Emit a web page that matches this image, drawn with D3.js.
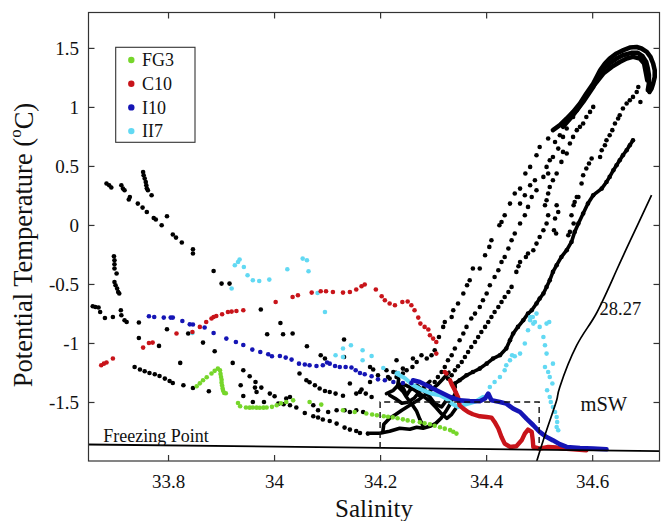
<!DOCTYPE html>
<html>
<head>
<meta charset="utf-8">
<script src="https://cdn.jsdelivr.net/npm/d3@7"></script>
<style>
  body { margin: 0; background: #fff; }
  svg { display: block; }
  svg text { font-family: "Liberation Serif", "DejaVu Serif", "Noto Serif", serif !important; fill: #111; }
</style>
</head>
<body>
<svg id="chart" width="665" height="521"></svg>
<script>
// ---- Axis definitions ----
const salinityDomain = [33.65, 34.727];
const thetaDomain = [-2.0, 1.8];
const xTickValues = [33.8, 34.0, 34.2, 34.4, 34.6];
const xTickLabels = ["33.8", "34", "34.2", "34.4", "34.6"];
const yTickValues = [-1.5, -1.0, -0.5, 0, 0.5, 1.0, 1.5];
const yTickLabels = ["-1.5", "-1", "-0.5", "0", "0.5", "1", "1.5"];

// ---- Reference lines ----
const freezingLine = [[33.65, -1.860], [34.727, -1.917]];
const isopycnal2827 = [[34.495, -2.008], [34.514, -1.740], [34.533, -1.486], [34.539, -1.373],
  [34.571, -1.019], [34.606, -0.765], [34.646, -0.384], [34.684, -0.017], [34.712, 0.252]];
const mswBox = [[34.2, -1.889], [34.2, -1.5], [34.5, -1.5], [34.5, -1.905]];

// ---- Station FG3 (salinity, potential temperature) ----
const fg3 = [[33.854,-1.367],[33.860,-1.342],[33.866,-1.316],[33.873,-1.291],[33.882,-1.259],[33.888,-1.236],
  [33.894,-1.217],[33.898,-1.231],[33.899,-1.262],[33.900,-1.288],[33.901,-1.312],[33.901,-1.336],[33.902,-1.360],
  [33.903,-1.385],[33.904,-1.405],[33.906,-1.424],[33.909,-1.426],[33.932,-1.508],[33.936,-1.536],[33.947,-1.547],
  [33.954,-1.548],[33.960,-1.547],[33.967,-1.548],[33.973,-1.549],[33.980,-1.548],[33.986,-1.547],[33.996,-1.541],
  [34.005,-1.528],[34.013,-1.511],[34.023,-1.500],[34.036,-1.486],[34.067,-1.500],[34.089,-1.522],[34.130,-1.570],
  [34.152,-1.585],[34.174,-1.598],[34.185,-1.606],[34.194,-1.613],[34.207,-1.621],[34.215,-1.625],[34.224,-1.630],
  [34.233,-1.638],[34.243,-1.647],[34.252,-1.656],[34.262,-1.664],[34.275,-1.672],[34.284,-1.680],[34.294,-1.689],
  [34.303,-1.701],[34.313,-1.714],[34.322,-1.726],[34.332,-1.738],[34.338,-1.752],[34.344,-1.768]];

// ---- Station C10 ----
const c10 = [[33.674,-1.189],[33.679,-1.175],[33.684,-1.166],[33.696,-1.132],[33.753,-1.039],[33.764,-1.000],
  [33.771,-0.997],[33.816,-0.920],[33.846,-0.907],[33.860,-0.864],[33.872,-0.822],[33.882,-0.793],[33.886,-0.780],
  [33.891,-0.771],[33.902,-0.757],[33.913,-0.737],[33.920,-0.734],[33.929,-0.729],[33.942,-0.723],[34.003,-0.653],
  [34.035,-0.610],[34.045,-0.596],[34.071,-0.573],[34.088,-0.562],[34.098,-0.562],[34.111,-0.568],[34.130,-0.573],
  [34.143,-0.568],[34.155,-0.547],[34.165,-0.519],[34.171,-0.505],[34.192,-0.547],[34.203,-0.604],[34.209,-0.638],
  [34.218,-0.666],[34.228,-0.681],[34.242,-0.653],[34.252,-0.649],[34.259,-0.681],[34.265,-0.723],[34.272,-0.785],
  [34.276,-0.836],[34.284,-0.864],[34.291,-0.886],[34.294,-0.935],[34.300,-0.963],[34.306,-0.992],[34.306,-1.090],
  [34.322,-1.246],[34.325,-1.259]];
const c10Deep = [[34.332,-1.316],[34.335,-1.350],[34.341,-1.401],[34.347,-1.460],[34.350,-1.528],[34.357,-1.556],
  [34.366,-1.585],[34.375,-1.604],[34.388,-1.621],[34.401,-1.627],[34.410,-1.632],[34.416,-1.669],[34.423,-1.725],
  [34.429,-1.797],[34.435,-1.853],[34.445,-1.881],[34.457,-1.875],[34.467,-1.825],[34.473,-1.768],[34.479,-1.734],
  [34.486,-1.754],[34.488,-1.825],[34.489,-1.881],[34.501,-1.895],[34.517,-1.881],[34.533,-1.886],[34.545,-1.895],
  [34.564,-1.901],[34.589,-1.909]];

// ---- Station I10 ----
const i10 = [[33.764,-0.774],[33.774,-0.780],[33.792,-0.785],[33.805,-0.785],[33.809,-0.785],[33.827,-0.814],
  [33.841,-0.842],[33.847,-0.844],[33.869,-0.869],[33.886,-0.915],[33.910,-0.963],[33.928,-0.992],[33.942,-1.017],
  [33.959,-1.056],[33.974,-1.076],[33.989,-1.096],[33.996,-1.113],[34.011,-1.110],[34.022,-1.124],[34.033,-1.141],
  [34.047,-1.175],[34.058,-1.183],[34.067,-1.189],[34.080,-1.195],[34.092,-1.189],[34.100,-1.166],[34.105,-1.175],
  [34.115,-1.195],[34.124,-1.203],[34.135,-1.203],[34.146,-1.208],[34.154,-1.231],[34.162,-1.254],[34.171,-1.265],
  [34.184,-1.282],[34.196,-1.308],[34.209,-1.316],[34.225,-1.331],[34.243,-1.339],[34.259,-1.339]];
const i10Deep = [[34.262,-1.316],[34.275,-1.331],[34.294,-1.373],[34.313,-1.415],[34.332,-1.458],[34.350,-1.486],
  [34.369,-1.492],[34.388,-1.494],[34.398,-1.471],[34.404,-1.429],[34.410,-1.486],[34.426,-1.500],[34.438,-1.514],
  [34.451,-1.556],[34.464,-1.585],[34.476,-1.641],[34.489,-1.697],[34.501,-1.754],[34.514,-1.797],[34.526,-1.825],
  [34.539,-1.858],[34.552,-1.881],[34.577,-1.890],[34.602,-1.895],[34.627,-1.901]];

// ---- Station II7 ----
const ii7 = [[33.920,-0.539],[33.926,-0.341],[33.932,-0.314],[33.935,-0.293],[33.943,-0.356],[33.950,-0.426],
  [33.960,-0.469],[33.972,-0.475],[33.991,-0.463],[34.025,-0.375],[34.054,-0.285],[34.062,-0.299],[34.065,-0.392],
  [34.082,-0.576],[34.096,-0.737],[33.846,-0.915],[34.116,-1.104],[34.130,-1.047],[34.130,-1.119],[34.145,-1.019],
  [34.167,-1.062],[34.184,-1.110],[34.167,-1.147],[34.206,-1.212],[34.234,-1.254],
  [34.407,-1.373],[34.416,-1.331],[34.426,-1.288],[34.435,-1.231],[34.438,-1.189],[34.445,-1.147],[34.449,-1.104],
  [34.454,-1.113],[34.464,-1.090],[34.473,-1.005],[34.479,-0.892],[34.483,-0.808],[34.483,-0.780],[34.488,-0.780],
  [34.495,-0.751],[34.489,-0.836],[34.492,-0.822],[34.501,-0.864],[34.508,-0.949],[34.514,-0.836],[34.519,-0.822],
  [34.511,-1.019],[34.514,-1.090],[34.511,-1.203],[34.517,-1.246],[34.520,-1.288],[34.526,-1.175],[34.525,-1.344],
  [34.515,-1.400],[34.520,-1.458],[34.522,-1.500],[34.526,-1.542],[34.530,-1.585],[34.533,-1.627],[34.534,-1.670],
  [34.533,-1.712],[34.536,-1.740]];
const ii7Deep = [[34.231,-1.259],[34.247,-1.299],[34.262,-1.358],[34.281,-1.401],[34.297,-1.429],[34.313,-1.443],
  [34.325,-1.471],[34.337,-1.519],[34.347,-1.542],[34.356,-1.528],[34.369,-1.511],[34.381,-1.494],[34.394,-1.458]];

// ---- Other CTD casts (black) ----
const castWestUpper = [[33.684,0.351],[33.689,0.336],[33.693,0.317],[33.712,0.336],[33.715,0.308],[33.718,0.294],
  [33.728,0.237],[33.726,0.215],[33.743,0.181],[33.752,0.147],[33.760,0.110],[33.773,0.059],[33.777,0.046],
  [33.788,-0.003],[33.798,0.074],[33.809,-0.081],[33.815,-0.107],[33.826,-0.149],[33.847,-0.206],[33.847,-0.242],
  [33.886,-0.390],[33.901,-0.497],[33.916,-0.497]];
const castWestStreakA = [[33.753,0.449],[33.754,0.421],[33.756,0.393],[33.758,0.364],[33.759,0.336],[33.760,0.311],
  [33.762,0.294],[33.769,0.252]];
const castWestStreakB = [[33.698,-0.265],[33.699,-0.299],[33.699,-0.333],[33.699,-0.369],[33.703,-0.412],
  [33.699,-0.483],[33.701,-0.511],[33.704,-0.539],[33.706,-0.568],[33.708,-0.581],[33.711,-0.723],[33.712,-0.765],
  [33.718,-0.808],[33.722,-0.822]];
const castWestLow = [[33.658,-0.689],[33.663,-0.695],[33.669,-0.700],[33.672,-0.737],[33.681,-0.788],[33.696,-0.780],
  [33.745,-0.827],[33.745,-0.958],[33.798,-0.884],[33.783,-1.025],[33.838,-0.920],[33.866,-0.997],[33.888,-1.070],
  [33.922,-1.169],[33.823,-1.169]];
const castSouthWest = [[33.737,-1.203],[33.747,-1.225],[33.756,-1.240],[33.765,-1.254],[33.775,-1.265],
  [33.784,-1.280],[33.794,-1.302],[33.803,-1.322],[33.809,-1.339],[33.829,-1.358],[33.847,-1.381],[33.877,-1.409]];
const castCentral = [[33.942,-1.231],[33.954,-1.282],[33.965,-1.331],[33.976,-1.378],[33.992,-1.429],[34.001,-1.452],
  [34.023,-1.471],[33.937,-1.358],[33.942,-1.449],[33.960,-1.500],[33.981,-1.500],[33.964,-1.378],[33.967,-1.415],
  [34.008,-1.514],[34.018,-1.519],[34.030,-1.528],[34.042,-1.547],[34.058,-1.593],[34.074,-1.621],[34.083,-1.632],
  [34.092,-1.649],[34.105,-1.661],[34.118,-1.683],[34.133,-1.717],[34.143,-1.734],[34.155,-1.746],[34.162,-1.763],
  [34.177,-1.768],[34.061,-1.316],[34.067,-1.333],[34.077,-1.358],[34.086,-1.386],[34.096,-1.407],[34.105,-1.415],
  [34.116,-1.429],[34.130,-1.447],[34.143,-1.344],[34.155,-1.429],[34.165,-1.395],[34.173,-1.429],[34.184,-1.458],
  [34.048,-1.259],[34.074,-1.528],[34.083,-1.570],[34.102,-1.585],[34.118,-1.570],[34.133,-1.570],[34.143,-1.585],
  [34.155,-1.570],[34.168,-1.585],[34.030,-1.458],[33.975,-0.717],[34.012,-0.831],[33.987,-0.926],[34.017,-0.926],
  [34.035,-0.920],[34.062,-1.028],[34.088,-1.104],[34.096,-1.132],[34.132,-0.971],[34.132,-1.119],[34.181,-1.203],
  [34.187,-1.225],[34.196,-1.274],[34.215,-1.288],[34.181,-1.331],[34.162,-1.415],[34.231,-1.147],[34.262,-1.132],
  [34.278,-1.104],[34.288,-1.132],[34.212,-1.231],[34.225,-1.246],[34.243,-1.217]];
const castEastA = [[34.454,0.266],[34.445,0.181],[34.429,0.025],[34.425,-0.003],[34.410,-0.130],[34.406,-0.186],
  [34.398,-0.257],[34.388,-0.369],[34.375,-0.369],[34.369,-0.469],[34.364,-0.511],[34.357,-0.581],[34.347,-0.666],
  [34.338,-0.723],[34.335,-0.780],[34.322,-0.822],[34.319,-0.864],[34.311,-0.949],[34.303,-1.062],[34.297,-1.104],
  [34.269,-1.161],[34.261,-1.203],[34.250,-1.231],[34.243,-1.259],[34.231,-1.288],[34.218,-1.302],
  [34.435,0.082],[34.464,0.308],[34.474,0.436],[34.483,0.492],[34.495,0.591],[34.501,0.661],[34.517,0.732]];
const castEastB = [[34.495,0.294],[34.486,0.237],[34.479,0.153],[34.473,0.082],[34.464,0.012],[34.454,-0.073],
  [34.448,-0.130],[34.442,-0.200],[34.435,-0.271],[34.429,-0.314],[34.423,-0.384],[34.416,-0.441],[34.407,-0.511],
  [34.401,-0.581],[34.394,-0.638],[34.388,-0.695],[34.379,-0.751],[34.372,-0.793],[34.363,-0.864],[34.357,-0.920],
  [34.350,-0.977],[34.341,-1.047],[34.335,-1.104],[34.328,-1.147],[34.322,-1.203],[34.316,-1.246],[34.309,-1.288],
  [34.303,-1.331],[34.294,-1.367],[34.284,-1.401],[34.275,-1.443],
  [34.464,0.181],[34.473,0.252],[34.483,0.336],[34.492,0.379],[34.508,0.407],[34.517,0.436],[34.526,0.576],
  [34.536,0.647],[34.545,0.746],[34.552,0.817],[34.564,0.915],[34.530,0.703],[34.539,0.760],[34.545,0.619],
  [34.520,0.548],[34.514,0.492]];
const castEastC = [[34.571,0.237],[34.565,0.167],[34.561,0.082],[34.565,0.012],[34.558,-0.059],[34.555,-0.087],
  [34.533,0.167],[34.536,0.110],[34.530,0.054],[34.528,-0.045],[34.532,-0.073],[34.517,0.082],[34.514,0.012],
  [34.508,-0.045],[34.501,-0.102],[34.495,-0.158],[34.489,-0.214],[34.479,-0.242],[34.475,-0.271],[34.464,-0.314],
  [34.461,-0.350],[34.457,-0.398],[34.448,-0.525],[34.442,-0.568],[34.435,-0.610],[34.429,-0.653],[34.423,-0.695],
  [34.416,-0.737],[34.410,-0.780],[34.404,-0.822],[34.398,-0.864],[34.391,-0.907],[34.385,-0.949],[34.379,-0.992],
  [34.372,-1.034],[34.366,-1.076],[34.360,-1.119],[34.354,-1.161],[34.347,-1.197],[34.341,-1.231],[34.335,-1.274],
  [34.328,-1.302],
  [34.602,1.000],[34.596,0.958],[34.589,0.915],[34.583,0.859],[34.577,0.831],[34.571,0.803],[34.564,0.746],
  [34.558,0.690],[34.552,0.605],[34.542,0.534],[34.533,0.436],[34.526,0.379],[34.520,0.322],[34.517,0.266],
  [34.514,0.209],[34.511,0.167]];
const castEastD = [[34.687,1.169],[34.684,1.127],[34.677,1.085],[34.671,1.057],[34.665,1.029],[34.658,0.986],
  [34.652,0.930],[34.649,0.902],[34.643,0.859],[34.638,0.803],[34.633,0.760],[34.627,0.718],[34.624,0.675],
  [34.618,0.633],[34.615,0.576],[34.599,0.563],[34.594,0.520],[34.589,0.478],[34.583,0.421],[34.580,0.351],
  [34.574,0.237],[34.567,0.195],[34.691,1.042]];
const castEastDeep = [[34.341,-1.373],[34.341,-1.344],[34.350,-1.316],[34.363,-1.274],[34.375,-1.246],[34.388,-1.217],
  [34.401,-1.175],[34.413,-1.132],[34.426,-1.104],[34.438,-1.047],[34.445,-0.977],[34.451,-0.920],[34.460,-0.864],
  [34.470,-0.808],[34.479,-0.751],[34.486,-0.723],[34.495,-0.666],[34.501,-0.624],[34.508,-0.581],[34.514,-0.525],
  [34.520,-0.469],[34.526,-0.398],[34.533,-0.341],[34.542,-0.271],[34.552,-0.214],[34.561,-0.144],[34.567,-0.059],
  [34.574,0.012],[34.583,0.097],[34.592,0.181],[34.602,0.252],[34.618,0.308],[34.627,0.364],[34.633,0.407],
  [34.640,0.464],[34.646,0.506],[34.652,0.548],[34.658,0.591],[34.665,0.633],[34.671,0.675],[34.677,0.718]];

// Warm deep-water arcs (densely sampled casts)
const arcOuter = [[34.526,0.803],[34.539,0.845],[34.552,0.902],[34.564,0.958],[34.577,1.029],[34.589,1.114],
  [34.602,1.198],[34.615,1.311],[34.624,1.368],[34.633,1.410],[34.646,1.453],[34.659,1.481],[34.671,1.503],
  [34.684,1.508],[34.693,1.495],[34.703,1.466],[34.710,1.424],[34.715,1.368],[34.718,1.311],[34.718,1.254],
  [34.715,1.198],[34.712,1.156],[34.708,1.127]];
const arcMiddle = [[34.545,0.831],[34.564,0.930],[34.583,1.042],[34.602,1.169],[34.608,1.226],[34.621,1.325],
  [34.633,1.368],[34.646,1.410],[34.658,1.438],[34.674,1.458],[34.686,1.458],[34.695,1.430],[34.702,1.381],
  [34.705,1.325],[34.707,1.269],[34.707,1.198],[34.705,1.142]];
const arcInner = [[34.571,0.972],[34.583,1.057],[34.596,1.142],[34.608,1.209],[34.621,1.283],[34.637,1.339],
  [34.652,1.381],[34.665,1.410],[34.677,1.424],[34.690,1.410],[34.698,1.368],[34.701,1.297],[34.704,1.226]];

// Near-freezing tangle of casts
const tangleA = [[34.181,-1.765],[34.199,-1.765],[34.218,-1.748],[34.237,-1.723],[34.256,-1.731],[34.269,-1.714],
  [34.281,-1.723],[34.294,-1.706],[34.305,-1.681],[34.315,-1.638],[34.324,-1.579],[34.332,-1.519],[34.337,-1.469],
  [34.343,-1.418]];
const tangleB = [[34.230,-1.248],[34.235,-1.308],[34.233,-1.367],[34.243,-1.410],[34.250,-1.460],[34.260,-1.519],
  [34.269,-1.579],[34.275,-1.647],[34.281,-1.706]];
const tangleC = [[34.205,-1.757],[34.207,-1.689],[34.218,-1.638],[34.230,-1.604],[34.241,-1.570],[34.256,-1.528],
  [34.271,-1.486],[34.286,-1.435],[34.298,-1.392],[34.309,-1.350],[34.318,-1.308],[34.330,-1.248]];
const tangleD = [[34.237,-1.350],[34.248,-1.358],[34.260,-1.384],[34.271,-1.418],[34.282,-1.452],[34.294,-1.494],
  [34.305,-1.545],[34.315,-1.596],[34.326,-1.638],[34.335,-1.604],[34.343,-1.553]];
const tangleE = [[34.218,-1.443],[34.228,-1.469],[34.241,-1.511],[34.252,-1.503],[34.264,-1.469],[34.275,-1.410],
  [34.284,-1.367],[34.294,-1.325]];
const tangleF = [[34.212,-1.429],[34.225,-1.401],[34.234,-1.358],[34.244,-1.386],[34.250,-1.443],[34.256,-1.401],
  [34.269,-1.358],[34.281,-1.401],[34.294,-1.458],[34.303,-1.514],[34.316,-1.542],[34.325,-1.486]];

// ---- Legend ----
const seriesNames = ["FG3", "C10", "I10", "II7"];
const seriesColors = ["#76d62b", "#c8141a", "#1515b5", "#62d9f3"];

// ---- Drawing ----
const serifStack = "'Liberation Serif', 'DejaVu Serif', 'Noto Serif', serif";
const svg = d3.select("#chart").style("font-family", serifStack);
const plot = { left: 88.5, right: 659.5, top: 12.5, bottom: 461 };
const x = d3.scaleLinear().domain(salinityDomain).range([plot.left, plot.right]);
const y = d3.scaleLinear().domain(thetaDomain).range([plot.bottom, plot.top]);
const line = d3.line().x(d => x(d[0])).y(d => y(d[1]));

svg.append("defs").append("clipPath").attr("id", "plotClip")
  .append("rect")
  .attr("x", plot.left).attr("y", plot.top)
  .attr("width", plot.right - plot.left).attr("height", plot.bottom - plot.top);

const g = svg.append("g").attr("clip-path", "url(#plotClip)");

function dots(data, color, r = 2.3) {
  g.append("g").selectAll("circle").data(data).join("circle")
    .attr("cx", d => x(d[0])).attr("cy", d => y(d[1]))
    .attr("r", r).attr("fill", color);
}
function trace(data, color, w = 4.4) {
  g.append("path").datum(data).attr("d", line)
    .attr("fill", "none").attr("stroke", color).attr("stroke-width", w)
    .attr("stroke-linejoin", "round").attr("stroke-linecap", "round");
}
function label(sel, size) {
  return sel.style("font-family", serifStack).attr("font-size", size).attr("fill", "#111");
}

// black casts
[castWestUpper, castWestStreakA, castWestStreakB, castWestLow, castSouthWest, castCentral,
 castEastA, castEastB, castEastC, castEastD, castEastDeep].forEach(d => dots(d, "#000"));
trace(castEastDeep, "#000", 3.6);
[arcOuter, arcMiddle, arcInner].forEach(d => trace(d, "#000", 4.6));
[tangleA, tangleB, tangleC, tangleD, tangleE, tangleF].forEach(d => trace(d, "#000", 3.6));

// highlighted stations
dots(fg3, seriesColors[0]);
dots(ii7, seriesColors[3]);
trace(ii7Deep, seriesColors[3], 4.2);
dots(c10, seriesColors[1]);
trace(c10Deep, seriesColors[1], 4.4);
dots(i10, seriesColors[2]);
trace(i10Deep, seriesColors[2], 4.6);

// reference lines
g.append("path").datum(freezingLine).attr("d", line)
  .attr("fill", "none").attr("stroke", "#000").attr("stroke-width", 1.8);
g.append("path").datum(isopycnal2827).attr("d", line.curve(d3.curveNatural))
  .attr("fill", "none").attr("stroke", "#000").attr("stroke-width", 1.7);
line.curve(d3.curveLinear);
g.append("path").datum(mswBox).attr("d", line)
  .attr("fill", "none").attr("stroke", "#111").attr("stroke-width", 1.4)
  .attr("stroke-dasharray", "6,4");

// annotations
label(svg.append("text"), 18).attr("x", x(33.678)).attr("y", y(-1.835)).text("Freezing Point");
label(svg.append("text"), 18.5).attr("x", x(34.614)).attr("y", y(-0.765)).text("28.27");
label(svg.append("text"), 20.5).attr("x", x(34.578)).attr("y", y(-1.574)).text("mSW");

// frame
svg.append("rect")
  .attr("x", plot.left).attr("y", plot.top)
  .attr("width", plot.right - plot.left).attr("height", plot.bottom - plot.top)
  .attr("fill", "none").attr("stroke", "#333").attr("stroke-width", 1.2);

// axes with inward ticks on all sides
const tickLen = 6;
const xAxis = svg.append("g").attr("transform", `translate(0,${plot.bottom})`)
  .call(d3.axisBottom(x).tickValues(xTickValues).tickFormat((d, i) => xTickLabels[i])
    .tickSizeInner(-tickLen).tickSizeOuter(0).tickPadding(13.5));
const yAxis = svg.append("g").attr("transform", `translate(${plot.left},0)`)
  .call(d3.axisLeft(y).tickValues(yTickValues).tickFormat((d, i) => yTickLabels[i])
    .tickSizeInner(-tickLen).tickSizeOuter(0).tickPadding(9.5));
const xTop = svg.append("g").attr("transform", `translate(0,${plot.top})`)
  .call(d3.axisTop(x).tickValues(xTickValues).tickFormat("").tickSizeInner(-tickLen).tickSizeOuter(0));
const yRight = svg.append("g").attr("transform", `translate(${plot.right},0)`)
  .call(d3.axisRight(y).tickValues(yTickValues).tickFormat("").tickSizeInner(-tickLen).tickSizeOuter(0));
[xAxis, yAxis, xTop, yRight].forEach(a => {
  a.attr("font-family", null);
  a.select(".domain").remove();
  a.selectAll(".tick line").attr("stroke", "#333").attr("stroke-width", 1.2);
  label(a.selectAll(".tick text"), 19);
});

// axis titles
label(svg.append("text"), 25).attr("x", 374).attr("y", 517).attr("text-anchor", "middle").text("Salinity");
const yTitle = label(svg.append("text"), 26.5).attr("transform", "translate(32,245) rotate(-90)")
  .attr("text-anchor", "middle");
yTitle.append("tspan").text("Potential Temperature (");
yTitle.append("tspan").attr("font-size", 17).attr("dy", "-0.62em").text("o");
yTitle.append("tspan").attr("dy", "0.42em").text("C)");

// legend
const legend = svg.append("g");
legend.append("rect").attr("x", 115.7).attr("y", 47.3).attr("width", 79.3).attr("height", 95)
  .attr("fill", "#fff").attr("stroke", "#333").attr("stroke-width", 1.1);
const rows = legend.selectAll("g.row").data(seriesNames).join("g")
  .attr("class", "row").attr("transform", (d, i) => `translate(0,${60 + i * 23.7})`);
rows.append("circle").attr("cx", 131.3).attr("cy", 0).attr("r", 3.2).attr("fill", (d, i) => seriesColors[i]);
label(rows.append("text"), 18).attr("x", 142).attr("y", 0).attr("dy", "0.34em").text(d => d);
</script>
</body>
</html>
